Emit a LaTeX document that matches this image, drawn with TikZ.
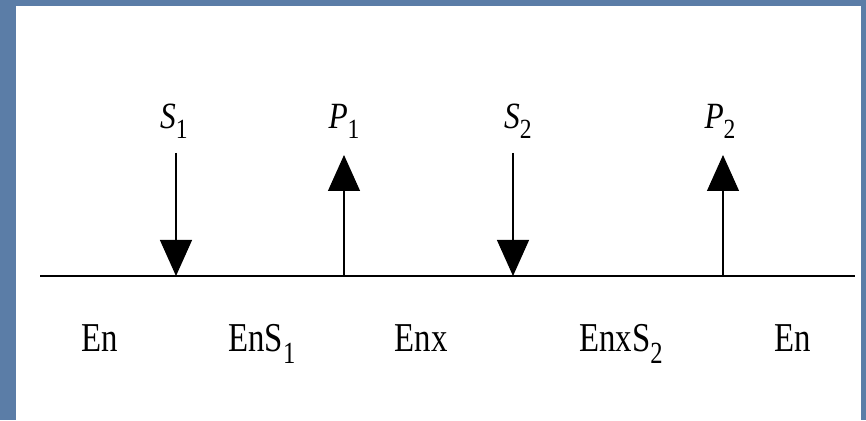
\documentclass[tikz,border=0pt]{standalone}
\usepackage{fontspec}
\setmainfont{Liberation Serif}
\usepackage{graphicx}
\usepackage{tikz}
\usetikzlibrary{arrows.meta}
\definecolor{frameBlue}{HTML}{5B7DA7}
\newcommand{\lowidx}[1]{\raisebox{-0.27em}{\scalebox{0.75}{#1}}}

\begin{document}
\begin{tikzpicture}[x=1pt, y=1pt,
    flow/.style={line width=1.1pt, -{Triangle[width=32pt, length=36pt]}},
    toplabel/.style={anchor=base, font=\fontsize{37}{37}\selectfont, xscale=0.85, transform shape},
    statelabel/.style={anchor=base, font=\fontsize{41}{41}\selectfont, xscale=0.8, transform shape}]
    \fill[frameBlue] (0,0) rectangle (866,420);
    \fill[white] (16,0) rectangle (861,414);

    % reaction axis
    \coordinate (axisL) at (40,144);
    \coordinate (axisR) at (855,144);
    \draw[line width=2pt] (axisL) -- (axisR);

    % substrates in, products out
    \coordinate (s1top) at (176,267);
    \coordinate (s1bot) at (176,144);
    \coordinate (p1top) at (344,265);
    \coordinate (p1bot) at (344,144);
    \coordinate (s2top) at (513,267);
    \coordinate (s2bot) at (513,144);
    \coordinate (p2top) at (723,265);
    \coordinate (p2bot) at (723,144);

    \draw[flow] (s1top) -- (s1bot);
    \draw[flow] (p1bot) -- (p1top);
    \draw[flow] (s2top) -- (s2bot);
    \draw[flow] (p2bot) -- (p2top);

    \node[toplabel] (s1) at (174,291) {\textit{S}\lowidx{1}};
    \node[toplabel] (p1) at (344,291) {\textit{P}\lowidx{1}};
    \node[toplabel] (s2) at (518,291) {\textit{S}\lowidx{2}};
    \node[toplabel] (p2) at (720,291) {\textit{P}\lowidx{2}};

    % enzyme forms
    \node[statelabel] (en1) at (100,68) {En};
    \node[statelabel] (ens1) at (262,68) {EnS\lowidx{1}};
    \node[statelabel] (enx) at (421,68) {Enx};
    \node[statelabel] (enxs2) at (621,68) {EnxS\lowidx{2}};
    \node[statelabel] (en2) at (793,68) {En};
\end{tikzpicture}
\end{document}
